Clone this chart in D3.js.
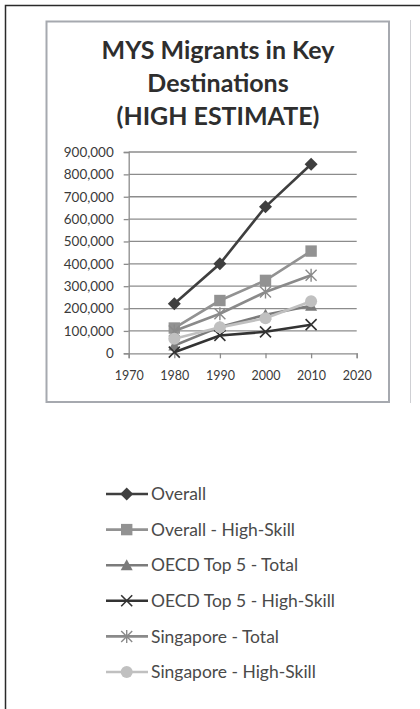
<!DOCTYPE html>
<html>
<head>
<meta charset="utf-8">
<script src="https://cdn.jsdelivr.net/npm/d3@7"></script>
<style>
  html, body { margin: 0; padding: 0; background: #fff; }
  svg { display: block; }
  text { font-family: Lato, "Open Sans", sans-serif; }
</style>
</head>
<body>
<svg id="chart" width="420" height="709"></svg>
<script>
const titleLines = ["MYS Migrants in Key", "Destinations", "(HIGH ESTIMATE)"];
const years = [1980, 1990, 2000, 2010];
const xTicks = [1970, 1980, 1990, 2000, 2010, 2020];
const yTicks = [0, 100000, 200000, 300000, 400000, 500000, 600000, 700000, 800000, 900000];
const seriesNames = ["Overall", "Overall - High-Skill", "OECD Top 5 - Total", "OECD Top 5 - High-Skill", "Singapore - Total", "Singapore - High-Skill"];
const overall = [222000, 400000, 655000, 845000];
const overallHighSkill = [113000, 236000, 326000, 457000];
const oecdTotal = [35000, 118000, 172000, 213000];
const oecdHighSkill = [5000, 80000, 96000, 128000];
const singaporeTotal = [100000, 177000, 274000, 349000];
const singaporeHighSkill = [65000, 116000, 157000, 233000];

const seriesValues = [overall, overallHighSkill, oecdTotal, oecdHighSkill, singaporeTotal, singaporeHighSkill];
const seriesColors = ["#3f3f3f", "#929292", "#7b7b7b", "#333333", "#8a8a8a", "#c0c0c0"];
const seriesMarkers = ["diamond", "square", "triangle", "x", "asterisk", "circle"];

const svg = d3.select("#chart");

// fit a font size so a sample string reaches a target width
function fitSize(sample, target, weight) {
  const t = svg.append("text").attr("font-size", 20).attr("font-weight", weight || "normal").text(sample);
  const w = t.node().getComputedTextLength();
  t.remove();
  return 20 * target / w;
}

// outer frame
svg.append("path").attr("d", "M5.5,709 L5.5,5.5 L420,5.5")
  .attr("fill", "none").attr("stroke", "#2a2a2a").attr("stroke-width", 1.5);
// chart box
svg.append("rect").attr("x", 46.5).attr("y", 21.5).attr("width", 342.5).attr("height", 380.5)
  .attr("fill", "#fff").attr("stroke", "#a6a9af").attr("stroke-width", 2);
// adjacent box edge
svg.append("line").attr("x1", 410.5).attr("x2", 410.5).attr("y1", 20).attr("y2", 403)
  .attr("stroke", "#cfd0d4").attr("stroke-width", 1);

// title
const titleSize = fitSize(titleLines[0], 233, "bold");
svg.append("g").selectAll("text").data(titleLines).join("text")
  .attr("x", 218).attr("y", (d, i) => 59 + i * 33)
  .attr("text-anchor", "middle").attr("font-weight", "bold")
  .attr("font-size", titleSize).attr("fill", "#2e2e2e")
  .text(d => d);

const x = d3.scaleLinear().domain([1970, 2020]).range([128.7, 356.7]);
const y = d3.scaleLinear().domain([0, 900000]).range([353.3, 152]);

// gridlines
svg.append("g").selectAll("line").data(yTicks.slice(1)).join("line")
  .attr("x1", x(1970)).attr("x2", x(2020))
  .attr("y1", d => y(d)).attr("y2", d => y(d))
  .attr("stroke", "#8c8c8c").attr("stroke-width", 1.3);

const ySize = fitSize("900,000", 50);
const xSize = fitSize("1970", 29);
const yAxis = svg.append("g").attr("transform", `translate(${x(1970)},0)`)
  .call(d3.axisLeft(y).tickValues(yTicks).tickFormat(d3.format(",")).tickSize(5).tickPadding(10));
const xAxis = svg.append("g").attr("transform", `translate(0,${y(0)})`)
  .call(d3.axisBottom(x).tickValues(xTicks).tickFormat(d3.format("d")).tickSize(5).tickPadding(13));
[yAxis, xAxis].forEach(a => {
  a.select(".domain").attr("stroke", "#8c8c8c").attr("stroke-width", 1.3);
  a.selectAll(".tick line").attr("stroke", "#8c8c8c").attr("stroke-width", 1.3);
  a.selectAll(".tick text").attr("fill", "#3a3a3a")
    .attr("font-family", "Lato, 'Open Sans', sans-serif");
});
yAxis.selectAll(".tick text").attr("font-size", ySize);
xAxis.selectAll(".tick text").attr("font-size", xSize);

function drawMarker(g, type, color, cx, cy) {
  if (type === "diamond") {
    g.append("path").attr("d", `M${cx},${cy-6.5}L${cx+6.5},${cy}L${cx},${cy+6.5}L${cx-6.5},${cy}Z`).attr("fill", color);
  } else if (type === "square") {
    g.append("rect").attr("x", cx-5.7).attr("y", cy-5.7).attr("width", 11.4).attr("height", 11.4).attr("fill", color);
  } else if (type === "triangle") {
    g.append("path").attr("d", `M${cx},${cy-6}L${cx+6},${cy+5}L${cx-6},${cy+5}Z`).attr("fill", color);
  } else if (type === "x") {
    g.append("path").attr("d", `M${cx-5.5},${cy-5.5}L${cx+5.5},${cy+5.5}M${cx-5.5},${cy+5.5}L${cx+5.5},${cy-5.5}`)
      .attr("stroke", color).attr("stroke-width", 1.6).attr("fill", "none");
  } else if (type === "asterisk") {
    g.append("path").attr("d", `M${cx-5.5},${cy-5.5}L${cx+5.5},${cy+5.5}M${cx-5.5},${cy+5.5}L${cx+5.5},${cy-5.5}M${cx},${cy-6.5}L${cx},${cy+6.5}`)
      .attr("stroke", color).attr("stroke-width", 1.4).attr("fill", "none");
  } else if (type === "circle") {
    g.append("circle").attr("cx", cx).attr("cy", cy).attr("r", 6).attr("fill", color);
  }
}

const line = d3.line().x(d => x(d[0])).y(d => y(d[1]));
seriesValues.forEach((vals, i) => {
  const g = svg.append("g");
  const pts = years.map((yr, j) => [yr, vals[j]]);
  g.append("path").attr("d", line(pts)).attr("fill", "none")
    .attr("stroke", seriesColors[i]).attr("stroke-width", 2.6);
  pts.forEach(p => drawMarker(g, seriesMarkers[i], seriesColors[i], x(p[0]), y(p[1])));
});

// legend
const legendSize = fitSize("OECD Top 5 - High-Skill", 184);
const legend = svg.append("g");
seriesNames.forEach((name, i) => {
  const cy = 494 + i * 35.6;
  const g = legend.append("g");
  g.append("line").attr("x1", 106).attr("x2", 148).attr("y1", cy).attr("y2", cy)
    .attr("stroke", seriesColors[i]).attr("stroke-width", 2.6);
  drawMarker(g, seriesMarkers[i], seriesColors[i], 126.7, cy);
  g.append("text").attr("x", 151).attr("y", cy).attr("dy", "0.35em")
    .attr("font-size", legendSize).attr("fill", "#4a4a4a").text(name);
});
</script>
</body>
</html>
